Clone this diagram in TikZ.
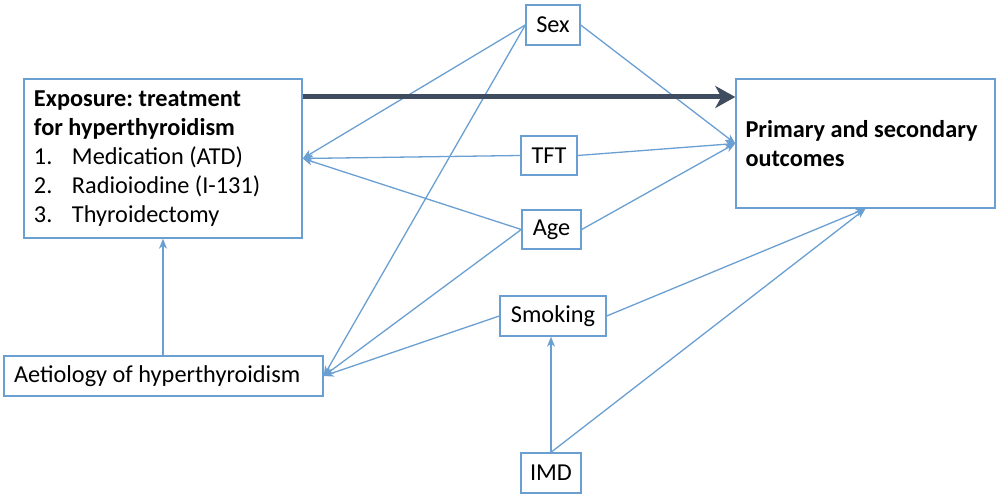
\documentclass[tikz,border=0pt]{standalone}
\usepackage{fontspec}
\setmainfont{Carlito}
\usetikzlibrary{arrows.meta}
\definecolor{lineblue}{HTML}{6A9FD2}
\definecolor{darkarrow}{HTML}{3F4B5E}
\tikzset{
  box/.style={draw=lineblue, line width=1.4pt, fill=white, inner sep=0pt,
    font=\fontsize{24.3}{29}\selectfont, text=black},
  link/.style={draw=lineblue, line width=1.3pt, -{Stealth[length=10pt,width=8pt,inset=3pt]}},
  mainlink/.style={draw=darkarrow, line width=5pt, -{Stealth[length=20pt,width=22pt,inset=6pt]}}
}
\begin{document}
\frenchspacing
\begin{tikzpicture}[x=1pt,y=-1pt]
\useasboundingbox (0,0) rectangle (997,497);
\node[box, minimum width=278pt, minimum height=159pt, text width=258pt, align=flush left] (expo) at (163,158.5)
  {\textbf{Exposure: treatment}\\\textbf{for hyperthyroidism}\\
   \makebox[38pt][l]{1.}Medication (ATD)\\
   \makebox[38pt][l]{2.}Radioiodine (I-131)\\
   \makebox[38pt][l]{3.}Thyroidectomy};
\node[box, minimum width=259pt, minimum height=129pt, text width=240pt, align=flush left] (out) at (865.5,143.5)
  {\textbf{Primary and secondary}\\\textbf{outcomes}};
\node[box, minimum width=54pt, minimum height=40pt] (sex) at (553,25) {Sex};
\node[box, minimum width=56pt, minimum height=39pt] (tft) at (549,155.5) {TFT};
\node[box, minimum width=59pt, minimum height=39pt] (age) at (551.5,229.5) {Age};
\node[box, minimum width=106pt, minimum height=40pt] (smk) at (553,316) {Smoking};
\node[box, minimum width=319pt, minimum height=40pt, text width=299pt, align=flush left] (aet) at (163.5,376) {Aetiology of hyperthyroidism};
\node[box, minimum width=60pt, minimum height=40pt] (imd) at (551,473) {IMD};

\draw[link] (sex.west) -- (expo.east);
\draw[link] (sex.west) -- (aet.east);
\draw[link] (sex.east) -- (out.west);
\draw[link] (tft.west) -- (expo.east);
\draw[link] (tft.east) -- (out.west);
\draw[link] (age.west) -- (expo.east);
\draw[link] (age.west) -- (aet.east);
\draw[link] (age.east) -- (out.west);
\draw[link] (smk.west) -- (aet.east);
\draw[link] (smk.east) -- (out.south);
\draw[link] (imd.north) -- (imd.north |- smk.south);
\draw[link] (imd.north) -- (out.south);
\draw[link] (aet.north -| expo.south) -- (expo.south);

\coordinate (mstart) at (expo.north east |- 0,97);
\coordinate (mend) at (out.north west |- 0,97);
\draw[mainlink] (mstart) -- (mend);
\end{tikzpicture}
\end{document}
